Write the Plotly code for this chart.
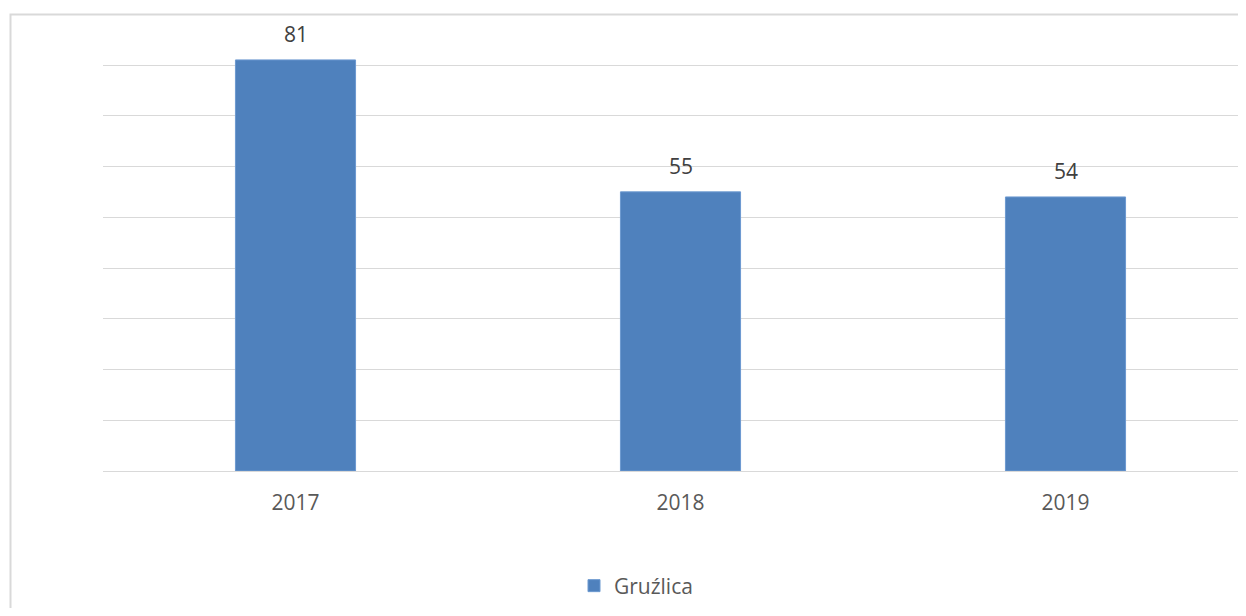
import plotly.graph_objects as go

years = ["2017", "2018", "2019"]
values = [81, 55, 54]
series_name = "Gruźlica"

# the page body adds an 8px margin on every side, so the figure is shrunk and shifted
OFF = 8
W, H = 1246 - 2 * OFF, 616 - 2 * OFF
L, R, T = 103 - OFF, 0, 30 - OFF
B = H - (471 - OFF)
plot_w = W - L - R
plot_h = H - T - B
CAT_PX = 385.0  # reference category spacing in px
x_hi = 2.5 - (103 + 3 * CAT_PX - (OFF + W)) / CAT_PX

def px_x(x):  # x in reference page pixels -> paper
    return (x - OFF - L) / plot_w

def px_y(y):
    return (H - B - (y - OFF)) / plot_h

fig = go.Figure()
fig.add_trace(go.Bar(
    x=years, y=values, name=series_name,
    marker=dict(color="#4f81bd", line=dict(color="#6d99d0", width=1)),
    width=0.312, showlegend=True,
))

for i, v in enumerate(values):
    fig.add_annotation(x=i, y=v, text=str(v), showarrow=False,
                       yanchor="middle", yshift=26,
                       font=dict(family="Open Sans", size=21, color="#404040"))

# chart area border
fig.add_shape(type="rect", xref="paper", yref="paper",
              x0=px_x(10.5), x1=px_x(1270), y0=px_y(660), y1=px_y(14.5),
              line=dict(color="#d9d9d9", width=2), fillcolor="rgba(0,0,0,0)", layer="below")

fig.update_layout(
    width=W, height=H,
    margin=dict(l=L, r=R, t=T, b=B),
    paper_bgcolor="white", plot_bgcolor="white",
    font=dict(family="Open Sans", color="#595959", size=21),
    xaxis=dict(type="category", range=[-0.5, x_hi], showgrid=False,
               showline=False, zeroline=False, ticks="", ticklabelstandoff=17,
               tickfont=dict(family="Open Sans", size=21, color="#595959")),
    yaxis=dict(range=[0, (471 - 30) / 5.075], dtick=10, tick0=0,
               showgrid=True, gridcolor="#d9d9d9", gridwidth=1,
               zeroline=True, zerolinecolor="#d9d9d9", zerolinewidth=1,
               showticklabels=False, showline=False),
    legend=dict(orientation="h", x=px_x(574), xanchor="left",
                y=px_y(586), yanchor="middle", itemwidth=30,
                font=dict(family="Open Sans", size=21, color="#595959"),
                bgcolor="rgba(0,0,0,0)"),
)

fig.write_html("out.html")
